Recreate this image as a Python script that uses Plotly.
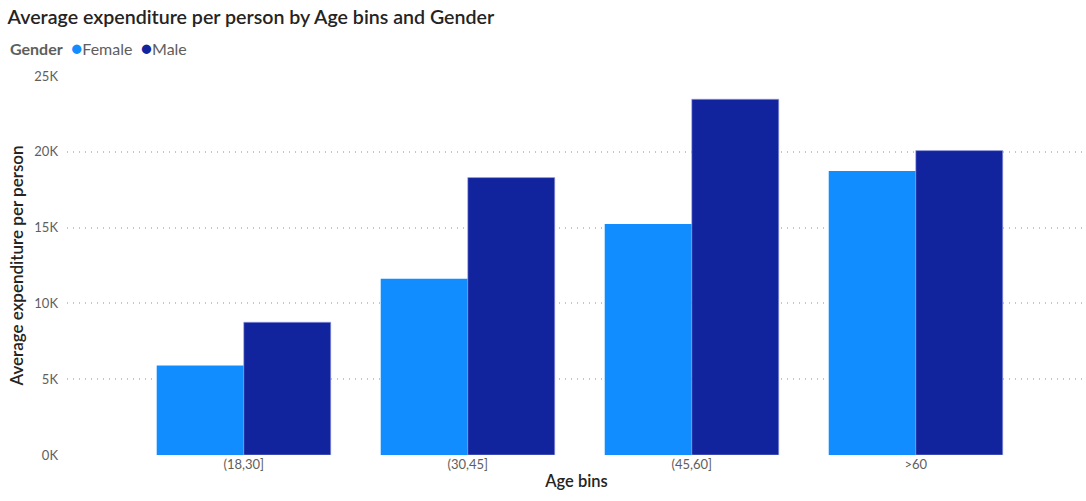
import plotly.graph_objects as go

# Average expenditure per person, by age bin and gender
age_bins = ["(18,30]", "(30,45]", "(45,60]", ">60"]
female = [5900, 11620, 15240, 18740]
male = [8760, 18300, 23470, 20080]
y_ticks = [0, 5000, 10000, 15000, 20000, 25000]
y_tick_text = ["0K", "5K", "10K", "15K", "20K", "25K"]

FEMALE_COLOR = "#118DFF"
MALE_COLOR = "#12239E"
FONT = "Lato"
DARK = "#252423"
GRAY = "#605E5C"

fig = go.Figure()
fig.add_trace(go.Bar(name="Female", x=age_bins, y=female, marker_color=FEMALE_COLOR,
                     marker_line=dict(width=0)))
fig.add_trace(go.Bar(name="Male", x=age_bins, y=male, marker_color=MALE_COLOR,
                     marker_line=dict(color="rgba(160,170,230,0.6)", width=1)))

# compact legend line: title plus coloured dots
legend_text = (
    f"<b>Gender</b>  <span style='color:{FEMALE_COLOR};font-size:19px'>●</span>Female  "
    f"<span style='color:{MALE_COLOR};font-size:19px'>●</span>Male"
)
fig.add_annotation(text=legend_text, xref="paper", yref="paper",
                   x=-0.058, xanchor="left", y=1.0765, yanchor="middle",
                   showarrow=False, font=dict(family=FONT, size=16, color=GRAY))

fig.update_layout(
    width=1086, height=501,
    margin=dict(l=67, r=0, t=76, b=46),
    paper_bgcolor="white", plot_bgcolor="white",
    barmode="group", bargap=0.223, bargroupgap=0,
    showlegend=False,
    font=dict(family=FONT, color=GRAY, size=12),
    title=dict(text="Average expenditure per person by Age bins and Gender",
               x=0.007, xanchor="left", y=0.966, yanchor="middle",
               font=dict(family=FONT, size=19.6, color=DARK, weight=600)),
    xaxis=dict(range=[-0.789, 3.76], showgrid=False, showline=False, zeroline=False,
               ticks="", tickfont=dict(size=13, color=GRAY),
               title=dict(text="Age bins", font=dict(size=16.5, color=DARK, weight=600),
                          standoff=4)),
    yaxis=dict(range=[0, 25000], tickvals=y_ticks, ticktext=y_tick_text,
               showgrid=True, gridcolor="#C8C6C4", griddash="1px,5px", gridwidth=1.5,
               zeroline=False, showline=False, ticks="", ticklabelstandoff=8,
               tickfont=dict(size=13, color=GRAY),
               title=dict(text="Average expenditure per person",
                          font=dict(size=17, color=DARK, weight=600), standoff=6)),
)

fig.write_html("out.html")
